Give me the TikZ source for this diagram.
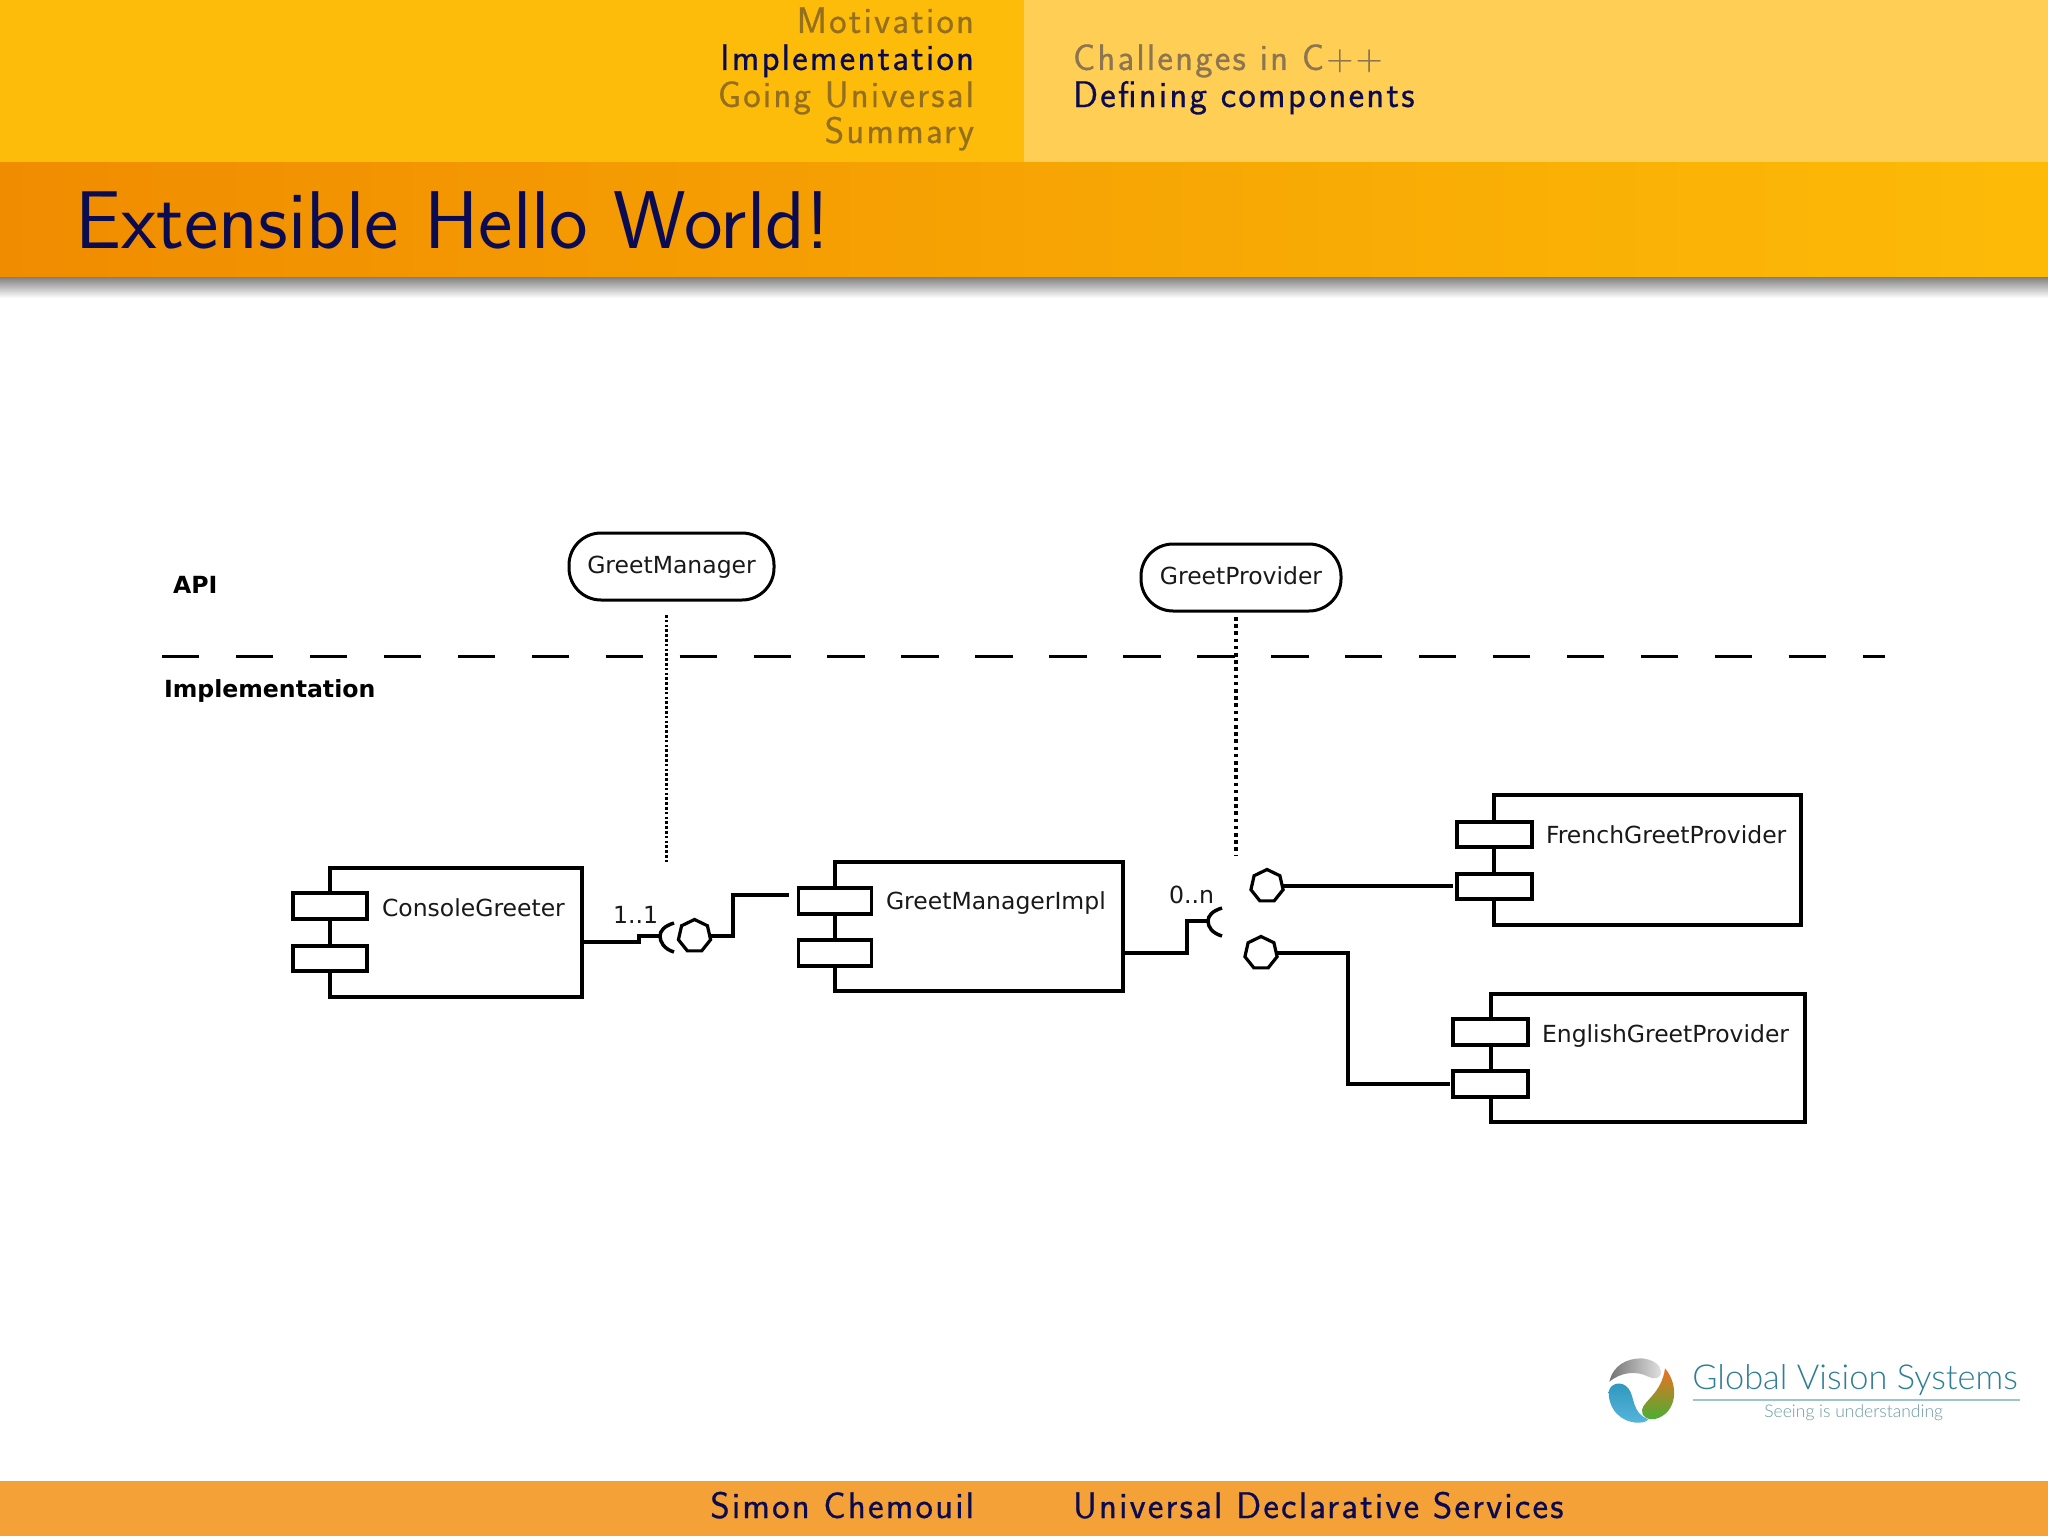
\documentclass[tikz,border=0pt]{standalone}
\usepackage{fontspec}
\usetikzlibrary{shapes.geometric}
\newfontfamily\navfont[LetterSpace=6,FakeBold=0.6]{Latin Modern Sans}
\newfontfamily\titlefont{Latin Modern Sans}
\newfontfamily\umlfont{DejaVu Sans}
\newfontfamily\logofont{Lato Light}
\definecolor{navy}{HTML}{0B0B52}
\definecolor{barL}{HTML}{FEBC0A}
\definecolor{barR}{HTML}{FFCF55}
\definecolor{titleL}{HTML}{F08C00}
\definecolor{titleR}{HTML}{FDBB07}
\definecolor{foot}{HTML}{F4A137}
\definecolor{dimL}{HTML}{946F1E}
\definecolor{dimR}{HTML}{8C7550}
\definecolor{logoT}{HTML}{2F7F95}
\definecolor{logoS}{HTML}{6C9AA3}
\definecolor{logoR}{HTML}{9CC5CE}
\definecolor{lgBlueA}{HTML}{2E95BD}
\definecolor{lgBlueB}{HTML}{55B5DA}
\definecolor{lgOr}{HTML}{F07020}
\definecolor{lgYe}{HTML}{E8DC20}
\definecolor{lgGr}{HTML}{45B035}
\tikzset{
  box/.style 2 args={draw=black,fill=white,line width=1.75pt,rectangle,inner sep=0pt,outer sep=0pt,minimum width=#1*0.5pt,minimum height=#2*0.5pt},
  iface/.style 2 args={draw=black,fill=white,line width=1.5pt,rectangle,rounded corners=16pt,inner sep=0pt,outer sep=0pt,minimum width=#1*0.5pt,minimum height=#2*0.5pt,text height=9pt,text depth=2.5pt,font=\umlfont\fontsize{11.75}{14}\selectfont,text=black!90},
  lolli/.style={draw=black,fill=white,line width=1.6pt,regular polygon,regular polygon sides=7,inner sep=0pt,outer sep=0pt,minimum size=16.5pt},
  conn/.style={draw=black,line width=1.75pt,line join=miter},
  dots/.style={draw=black,line width=1.75pt,dash pattern=on 1.75pt off 1.85pt},
  dotsB/.style={draw=black,line width=1.5pt,dash pattern=on 1.3pt off 1.1pt},
  sep/.style={draw=black,line width=1.75pt,dash pattern=on 18.7pt off 18.27pt},
  umllabel/.style={anchor=base west,inner sep=0pt,outer sep=0pt,font=\umlfont\fontsize{11.75}{14}\selectfont,text=black!90},
  multi/.style={anchor=base west,inner sep=0pt,outer sep=0pt,font=\umlfont\fontsize{11.8}{14}\selectfont,text=black!90},
  boldlabel/.style={anchor=base west,inner sep=0pt,outer sep=0pt,font=\umlfont\bfseries\fontsize{11.8}{14}\selectfont,text=black},
  navR/.style={anchor=base east,inner sep=0pt,outer sep=0pt,font=\navfont\fontsize{18.5}{20}\selectfont},
  navLft/.style={anchor=base west,inner sep=0pt,outer sep=0pt,font=\navfont\fontsize{18.5}{20}\selectfont},
}
\begin{document}
\begin{tikzpicture}[x=0.5pt,y=-0.5pt]
\useasboundingbox (0,0) rectangle (2048,1536);
\fill[white] (0,0) rectangle (2048,1536);
% header
\fill[barL] (0,0) rectangle (1024,162);
\fill[barR] (1024,0) rectangle (2048,162);
\shade[left color=titleL,right color=titleR] (0,162) rectangle (2048,277);
\shade[top color=black!50,bottom color=white] (0,277) rectangle (2048,298);
\fill[foot] (0,1481) rectangle (2048,1536);
\node[navR,text=dimL] (n1) at (974,33) {Motivation};
\node[navR,text=navy] (n2) at (974,70) {Implementation};
\node[navR,text=dimL] (n3) at (974,107) {Going Universal};
\node[navR,text=dimL] (n4) at (974,143) {Summary};
\node[navLft,text=dimR] (n5) at (1073,70) {Challenges in C++};
\node[navLft,text=navy] (n6) at (1073,107) {Defining components};
\node[anchor=base west,inner sep=0pt,text=navy,font=\titlefont\fontsize{41}{44}\selectfont] (title) at (75,248) {Extensible Hello World!};
\node[navR,text=navy] (f1) at (974,1518) {Simon Chemouil};
\node[navLft,text=navy] (f2) at (1073,1518) {Universal Declarative Services};
% labels
\node[boldlabel] (api) at (173,593) {API};
\node[boldlabel] (impl) at (164,697) {Implementation};
\coordinate (sepA) at (162,656.5);
\coordinate (sepB) at (1885,656.5);
\draw[sep] (sepA) -- (sepB);
% interfaces
\node[iface={205}{67}] (gm) at (671.5,566.5) {GreetManager};
\node[iface={200}{67}] (gp) at (1241,577.5) {GreetProvider};
\coordinate (gmA) at (666,615);
\coordinate (gmB) at (666,863);
\coordinate (gpA) at (1236,617);
\coordinate (gpB) at (1236,856);
\draw[dotsB] (gmA) -- (gmB);
\draw[dots] (gpA) -- (gpB);
% ConsoleGreeter
\node[box={252}{129}] (cg) at (456,932.5) {};
\node[box={74}{26}] (cgP) at (330,906) {};
\node[box={74}{25}] (cgQ) at (330,958.5) {};
\node[umllabel] (cgT) at (382,916) {ConsoleGreeter};
% GreetManagerImpl
\node[box={288}{129}] (gi) at (979,926.5) {};
\node[box={73}{26}] (giP) at (835,901) {};
\node[box={73}{26}] (giQ) at (835,953) {};
\node[umllabel] (giT) at (886,909) {GreetManagerImpl};
% FrenchGreetProvider
\node[box={307}{130}] (fr) at (1647.5,860) {};
\node[box={75}{25}] (frP) at (1494.5,834.5) {};
\node[box={75}{25}] (frQ) at (1494.5,886.5) {};
\node[umllabel] (frT) at (1546,843) {FrenchGreetProvider};
% EnglishGreetProvider
\node[box={314}{128}] (en) at (1648,1058) {};
\node[box={75}{26}] (enP) at (1490.5,1032) {};
\node[box={75}{26}] (enQ) at (1490.5,1084) {};
\node[umllabel] (enT) at (1542,1042) {EnglishGreetProvider};
% lollipops and sockets
\node[lolli] (lA) at (694.5,936) {};
\node[lolli] (lB) at (1267,886) {};
\node[lolli] (lC) at (1261,953) {};
\coordinate (skA) at (660,936);
\coordinate (skAt) at (674,923);
\coordinate (skAb) at (674,952);
\coordinate (skB) at (1208,921);
\coordinate (skBt) at (1222,908);
\coordinate (skBb) at (1222,936);
\draw[conn] (skAt) .. controls (664,926) and (660,931) .. (skA) .. controls (660,942) and (664,949) .. (skAb);
\draw[conn] (skBt) .. controls (1212,911) and (1208,916) .. (skB) .. controls (1208,927) and (1212,933) .. (skBb);
% connectors
\coordinate (c1a) at (582,942);
\coordinate (c1b) at (639,942);
\coordinate (c1c) at (639,936);
\draw[conn] (c1a) -- (c1b) -- (c1c) -- (skA);
\node[multi] (m1) at (613,923) {1..1};
\coordinate (c2a) at (733,936);
\coordinate (c2b) at (733,895);
\coordinate (c2c) at (788.5,895);
\draw[conn] (lA.east) -- (c2a) -- (c2b) -- (c2c);
\coordinate (c3a) at (1123,953);
\coordinate (c3b) at (1187,953);
\coordinate (c3c) at (1187,921);
\draw[conn] (c3a) -- (c3b) -- (c3c) -- (skB);
\node[multi] (m2) at (1169,903) {0..n};
\coordinate (c4) at (1453,886);
\draw[conn] (lB.east) -- (c4);
\coordinate (c5a) at (1348,953);
\coordinate (c5b) at (1348,1084);
\coordinate (c5c) at (1450,1084);
\draw[conn] (lC.east) -- (c5a) -- (c5b) -- (c5c);
% logo
\begin{scope}[shift={(1580,1330)},x=0.16667pt,y=-0.16667pt]
\shade[left color=black!55,right color=black!12] (88,155) .. controls (100,105) and (140,85) .. (185,85) .. controls (220,88) and (242,105) .. (243,125) .. controls (243,145) and (225,150) .. (205,140) .. controls (170,122) and (125,125) .. (88,155) -- cycle;
\shade[top color=lgBlueA,bottom color=lgBlueB] (86,185) .. controls (90,160) and (125,150) .. (145,175) .. controls (165,200) and (155,250) .. (205,268) .. controls (195,278) and (185,278) .. (175,278) .. controls (125,278) and (85,240) .. (86,185) -- cycle;
\shade[top color=lgOr,middle color=lgYe,bottom color=lgGr] (255,115) .. controls (298,165) and (292,250) .. (225,267) .. controls (205,272) and (183,260) .. (186,240) .. controls (190,212) and (245,190) .. (255,115) -- cycle;
\end{scope}
\node[anchor=base west,inner sep=0pt,text=logoT,font=\logofont\fontsize{17.2}{20}\selectfont] (lg1) at (1692,1389) {Global Vision Systems};
\coordinate (lgA) at (1693,1400);
\coordinate (lgB) at (2020,1400);
\draw[logoR,line width=0.6pt] (lgA) -- (lgB);
\node[anchor=base west,inner sep=0pt,text=logoS,font=\logofont\fontsize{8.75}{11}\selectfont] (lg2) at (1764,1417) {Seeing is understanding};
\end{tikzpicture}
\end{document}
